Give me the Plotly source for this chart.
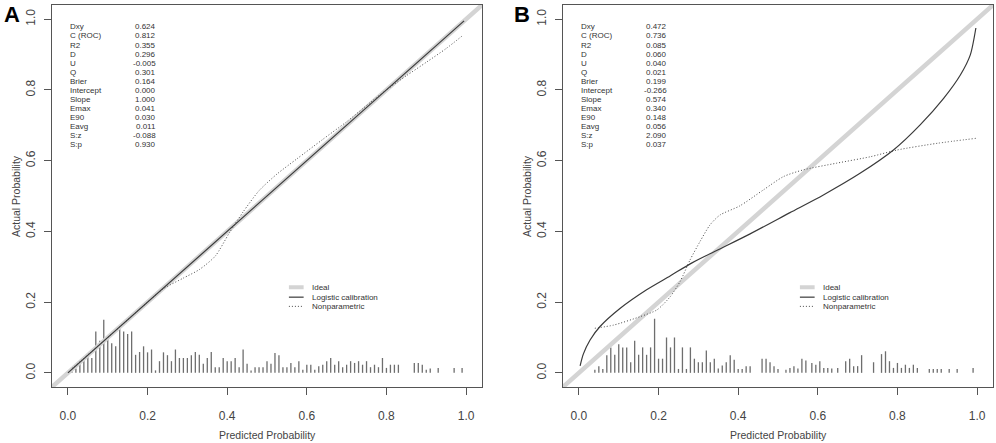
import plotly.graph_objects as go

# axis ticks
tick_vals = [0.0, 0.2, 0.4, 0.6, 0.8, 1.0]
tick_labels = ["0.0", "0.2", "0.4", "0.6", "0.8", "1.0"]

# ideal line spans the whole plotting region
ideal_x = [-0.04, 1.04]
ideal_y = [-0.04, 1.04]

# summary statistics (same names for both panels)
stat_names = ["Dxy", "C (ROC)", "R2", "D", "U", "Q", "Brier", "Intercept",
              "Slope", "Emax", "E90", "Eavg", "S:z", "S:p"]
stats_a = ["0.624", "0.812", "0.355", "0.296", "-0.005", "0.301", "0.164", "0.000",
           "1.000", "0.041", "0.030", "0.011", "-0.088", "0.930"]
stats_b = ["0.472", "0.736", "0.085", "0.060", "0.040", "0.021", "0.199", "-0.266",
           "0.574", "0.340", "0.148", "0.056", "2.090", "0.037"]

legend_names = ["Ideal", "Logistic calibration", "Nonparametric"]

# panel A curves
logit_a_x = [0.0, 0.995]
logit_a_y = [0.0, 0.995]
np_a_x = [0.01, 0.10, 0.20, 0.24, 0.29, 0.33, 0.37, 0.405, 0.44, 0.48, 0.525,
          0.575, 0.64, 0.70, 0.76, 0.80, 0.85, 0.90, 0.95, 0.993]
np_a_y = [0.012, 0.10, 0.20, 0.238, 0.268, 0.292, 0.33, 0.395, 0.455, 0.515, 0.562,
          0.605, 0.66, 0.71, 0.765, 0.80, 0.84, 0.878, 0.917, 0.955]

# panel A spike histogram
spike_a_x = [0.01, 0.02, 0.03, 0.04, 0.05, 0.06, 0.07, 0.08, 0.09, 0.10,
             0.11, 0.12, 0.13, 0.14, 0.15, 0.16, 0.17, 0.18, 0.19, 0.20,
             0.21, 0.22, 0.23, 0.24, 0.25, 0.26, 0.27, 0.28, 0.29, 0.30,
             0.31, 0.32, 0.33, 0.34, 0.35, 0.36, 0.37, 0.38, 0.39, 0.40,
             0.41, 0.42, 0.43, 0.44, 0.45, 0.46, 0.47, 0.48, 0.49, 0.50,
             0.51, 0.52, 0.53, 0.54, 0.55, 0.56, 0.57, 0.58, 0.59, 0.60,
             0.61, 0.62, 0.63, 0.64, 0.65, 0.66, 0.67, 0.68, 0.69, 0.70,
             0.71, 0.72, 0.73, 0.74, 0.75, 0.76, 0.77, 0.78, 0.79, 0.80,
             0.81, 0.82, 0.83, 0.87, 0.88, 0.89, 0.90, 0.91, 0.93, 0.97, 0.99]
spike_a_h = [0.007, 0.012, 0.028, 0.035, 0.047, 0.042, 0.117, 0.091, 0.150, 0.098,
             0.084, 0.075, 0.128, 0.117, 0.110, 0.117, 0.051, 0.059, 0.075, 0.058,
             0.066, 0.007, 0.033, 0.058, 0.050, 0.033, 0.066, 0.042, 0.042, 0.042,
             0.050, 0.059, 0.051, 0.026, 0.042, 0.059, 0.016, 0.016, 0.042, 0.033,
             0.033, 0.042, 0.016, 0.066, 0.026, 0.007, 0.016, 0.016, 0.016, 0.033,
             0.026, 0.056, 0.050, 0.016, 0.016, 0.028, 0.016, 0.033, 0.009, 0.023,
             0.023, 0.009, 0.019, 0.023, 0.033, 0.042, 0.023, 0.033, 0.016, 0.023,
             0.033, 0.028, 0.033, 0.023, 0.033, 0.016, 0.023, 0.016, 0.042, 0.014,
             0.023, 0.023, 0.023, 0.028, 0.028, 0.023, 0.009, 0.012, 0.014, 0.014, 0.014]

# panel B curves
logit_b_x = [0.003, 0.011, 0.028, 0.053, 0.103, 0.170, 0.229, 0.284, 0.346, 0.430,
             0.530, 0.614, 0.706, 0.790, 0.857, 0.916, 0.958, 0.983, 0.997]
logit_b_y = [0.020, 0.053, 0.093, 0.131, 0.182, 0.235, 0.274, 0.311, 0.346, 0.393,
             0.453, 0.503, 0.564, 0.630, 0.701, 0.776, 0.842, 0.899, 0.975]
np_b_x = [0.040, 0.087, 0.154, 0.196, 0.229, 0.254, 0.279, 0.304, 0.329, 0.354,
          0.404, 0.463, 0.514, 0.564, 0.648, 0.732, 0.799, 0.900, 0.997]
np_b_y = [0.126, 0.135, 0.159, 0.178, 0.215, 0.258, 0.319, 0.371, 0.418, 0.446,
          0.472, 0.517, 0.555, 0.574, 0.593, 0.611, 0.630, 0.649, 0.663]

# panel B spike histogram
spike_b_x = [0.04, 0.05, 0.06, 0.07, 0.08, 0.09, 0.10, 0.11, 0.12, 0.13,
             0.14, 0.15, 0.16, 0.17, 0.18, 0.19, 0.20, 0.21, 0.22, 0.23,
             0.24, 0.25, 0.26, 0.27, 0.28, 0.29, 0.30, 0.31, 0.32, 0.33,
             0.34, 0.35, 0.36, 0.37, 0.38, 0.39, 0.40, 0.41, 0.42, 0.43,
             0.46, 0.47, 0.48, 0.49, 0.50, 0.52, 0.53, 0.54, 0.55, 0.56,
             0.57, 0.585, 0.595, 0.605, 0.615, 0.625, 0.635, 0.65, 0.67, 0.68,
             0.69, 0.70, 0.71, 0.74, 0.76, 0.77, 0.78, 0.79, 0.80, 0.81,
             0.82, 0.83, 0.84, 0.85, 0.88, 0.89, 0.90, 0.91, 0.93, 0.95, 0.99]
spike_b_h = [0.009, 0.019, 0.011, 0.050, 0.072, 0.051, 0.081, 0.072, 0.072, 0.030,
             0.091, 0.051, 0.072, 0.051, 0.072, 0.153, 0.040, 0.040, 0.100, 0.072,
             0.100, 0.011, 0.072, 0.011, 0.072, 0.040, 0.030, 0.030, 0.063, 0.030,
             0.040, 0.012, 0.021, 0.030, 0.050, 0.037, 0.011, 0.011, 0.019, 0.019,
             0.040, 0.040, 0.030, 0.019, 0.011, 0.009, 0.014, 0.019, 0.012, 0.040,
             0.035, 0.028, 0.023, 0.033, 0.014, 0.014, 0.012, 0.014, 0.033, 0.040,
             0.019, 0.019, 0.050, 0.030, 0.053, 0.061, 0.033, 0.014, 0.028, 0.014,
             0.023, 0.014, 0.023, 0.014, 0.011, 0.011, 0.011, 0.011, 0.011, 0.011, 0.014]

FONT = "Arial, Liberation Sans, sans-serif"
IDEAL_COL = "#d4d4d4"
LINE_COL = "#3a3a3a"
DOT_COL = "#4a4a4a"
SPIKE_COL = "#6e6e6e"
AX_COL = "#555555"
DOTS = "1px,2px"


def spikes(xs, hs):
    sx, sy = [], []
    for x, h in zip(xs, hs):
        sx.extend([x, x, None])
        sy.extend([0, h, None])
    return sx, sy


fig = go.Figure()

panels = [
    ("x", "y", logit_a_x, logit_a_y, np_a_x, np_a_y, spike_a_x, spike_a_h),
    ("x2", "y2", logit_b_x, logit_b_y, np_b_x, np_b_y, spike_b_x, spike_b_h),
]
for xa, ya, lx, ly, nx, ny, kx, kh in panels:
    sx, sy = spikes(kx, kh)
    fig.add_trace(go.Scatter(x=sx, y=sy, mode="lines", xaxis=xa, yaxis=ya,
                             line=dict(color=SPIKE_COL, width=1.3), showlegend=False))
    fig.add_trace(go.Scatter(x=ideal_x, y=ideal_y, mode="lines", xaxis=xa, yaxis=ya,
                             line=dict(color=IDEAL_COL, width=4.5), showlegend=False))
    fig.add_trace(go.Scatter(x=nx, y=ny, mode="lines", xaxis=xa, yaxis=ya,
                             line=dict(color=DOT_COL, width=1, dash=DOTS, shape="spline", smoothing=0.7),
                             showlegend=False))
    fig.add_trace(go.Scatter(x=lx, y=ly, mode="lines", xaxis=xa, yaxis=ya,
                             line=dict(color=LINE_COL, width=1.2, shape="spline", smoothing=0.7),
                             showlegend=False))

annotations = []
shapes = []
row_y0, row_step = 0.978, 0.0256
for xa, ya, vals in [("x", "y", stats_a), ("x2", "y2", stats_b)]:
    for i, (name, val) in enumerate(zip(stat_names, vals)):
        yy = row_y0 - i * row_step
        annotations.append(dict(x=0.0, y=yy, xref=xa, yref=ya, text=name, showarrow=False,
                                xanchor="left", yanchor="middle",
                                font=dict(size=8, color="#333", family=FONT)))
        annotations.append(dict(x=0.225, y=yy, xref=xa, yref=ya, text=val, showarrow=False,
                                xanchor="right", yanchor="middle",
                                font=dict(size=8, color="#333", family=FONT)))
    # legend block
    leg_y = [0.242, 0.214, 0.188]
    leg_style = [dict(color=IDEAL_COL, width=4), dict(color=LINE_COL, width=1.2),
                 dict(color=DOT_COL, width=1, dash=DOTS)]
    for name, yy, st in zip(legend_names, leg_y, leg_style):
        shapes.append(dict(type="line", xref=xa, yref=ya, x0=0.555, x1=0.592, y0=yy, y1=yy, line=st))
        annotations.append(dict(x=0.607, y=yy, xref=xa, yref=ya, text=name, showarrow=False,
                                xanchor="left", yanchor="middle",
                                font=dict(size=8, color="#333", family=FONT)))

W, H = 996, 443
for letter, px in [("A", 2), ("B", 512)]:
    annotations.append(dict(x=px / W, y=1.0, xref="paper", yref="paper", text=f"<b>{letter}</b>",
                            showarrow=False, xanchor="left", yanchor="top",
                            font=dict(size=22, color="#000", family=FONT)))
for xa, ya, tx in [("x domain", "y domain", 16), ("x2 domain", "y2 domain", 527)]:
    annotations.append(dict(x=0.5, y=1 - 435 / H, xref=xa, yref="paper", text="Predicted Probability",
                            showarrow=False, xanchor="center", yanchor="middle",
                            font=dict(size=10.5, color="#444", family=FONT)))
    annotations.append(dict(x=tx / W, y=0.5, xref="paper", yref=ya,
                            text="Actual Probability", textangle=-90, showarrow=False,
                            xanchor="center", yanchor="middle",
                            font=dict(size=10.5, color="#444", family=FONT)))

common = dict(range=[-0.04, 1.04], tickvals=tick_vals, ticktext=tick_labels, ticks="outside",
              ticklen=7, tickcolor=AX_COL, tickwidth=1, showline=True, mirror=True,
              linecolor=AX_COL, linewidth=1, showgrid=False, zeroline=False,
              tickfont=dict(size=12, color="#444", family=FONT))

ydom = [1 - 387 / H, 1 - 5 / H]
fig.update_layout(
    width=W, height=H,
    margin=dict(l=0, r=0, t=0, b=0),
    paper_bgcolor="white", plot_bgcolor="white",
    showlegend=False,
    hovermode=False,
    xaxis=dict(domain=[52 / W, 482 / W], anchor="y", ticklabelstandoff=11, **common),
    yaxis=dict(domain=ydom, anchor="x", tickangle=-90, ticklabelstandoff=4, **common),
    xaxis2=dict(domain=[563 / W, 993 / W], anchor="y2", ticklabelstandoff=11, **common),
    yaxis2=dict(domain=ydom, anchor="x2", tickangle=-90, ticklabelstandoff=4, **common),
    annotations=annotations,
    shapes=shapes,
)

# drop the default page margin so the figure sits at the window's top-left corner
fig.write_html("out.html", config={"displayModeBar": False},
               post_script="document.body.style.margin='0';")
